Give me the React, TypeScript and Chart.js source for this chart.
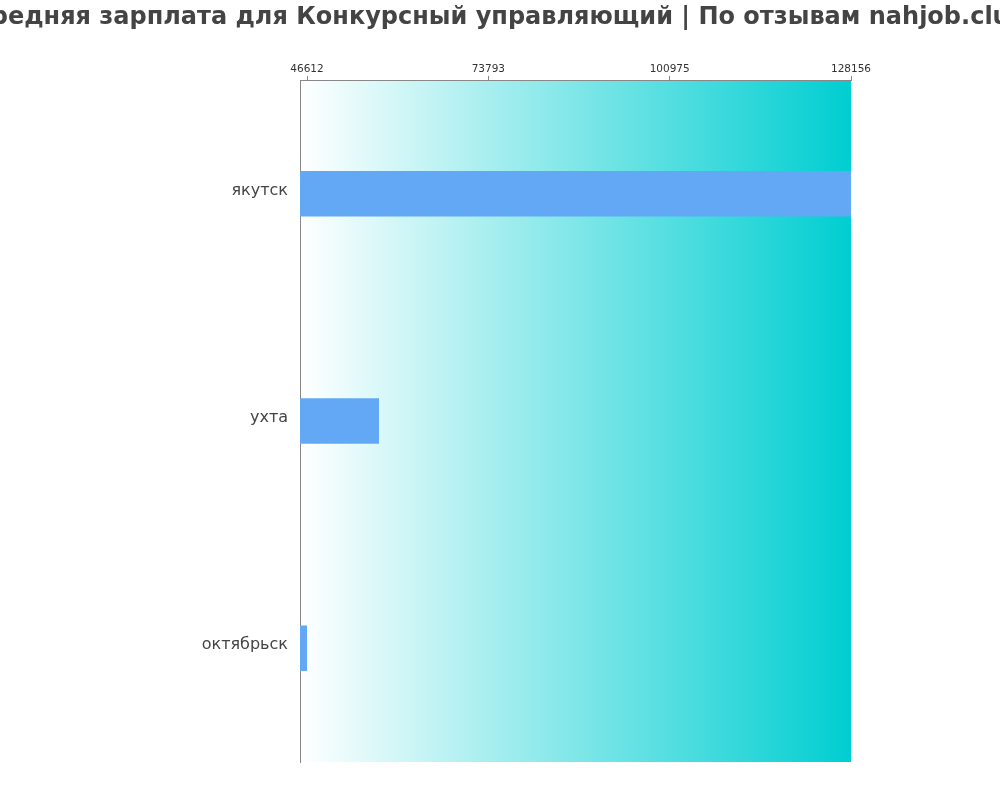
import React, { useEffect, useRef } from "react";
import { Chart, registerables } from "chart.js";

Chart.register(...registerables);

const TITLE = "Средняя зарплата для Конкурсный управляющий | По отзывам nahjob.club";
const cities = ["якутск", "ухта", "октябрьск"];
const salaries = [128156, 57400, 46612];
const tickValues = [46612, 73793, 100975, 128156];
const X_MIN = 45560;
const X_MAX = 128156;

const gradientBg = {
  id: "gradientBg",
  beforeDraw(chart: any) {
    const { ctx, chartArea } = chart;
    if (!chartArea) return;
    const g = ctx.createLinearGradient(chartArea.left, 0, chartArea.right, 0);
    g.addColorStop(0, "rgba(255,255,255,1)");
    g.addColorStop(1, "rgb(0,206,209)");
    ctx.save();
    ctx.fillStyle = g;
    ctx.fillRect(chartArea.left, chartArea.top, chartArea.right - chartArea.left, chartArea.bottom - chartArea.top);
    ctx.restore();
  },
};

const titleDraw = {
  id: "titleDraw",
  afterDraw(chart: any) {
    const { ctx, width } = chart;
    ctx.save();
    try {
      (ctx as any).fontStretch = "normal";
    } catch (e) {}
    ctx.font = "bold 24px 'DejaVu Sans'";
    ctx.fillStyle = "#444444";
    ctx.textAlign = "center";
    ctx.textBaseline = "alphabetic";
    ctx.fillText(TITLE, width / 2, 24);
    ctx.restore();
  },
};

export default function App() {
  const ref = useRef<HTMLCanvasElement>(null);
  useEffect(() => {
    if (!ref.current) return;
    const chart = new Chart(ref.current, {
      type: "bar",
      data: {
        labels: cities,
        datasets: [
          {
            data: salaries,
            backgroundColor: "rgb(99,168,245)",
            borderWidth: 0,
            barPercentage: 0.2,
            categoryPercentage: 1,
          },
        ],
      },
      options: {
        indexAxis: "y",
        animation: false,
        responsive: false,
        maintainAspectRatio: false,
        layout: { padding: { left: 0, right: 149, bottom: 38, top: 0 } },
        plugins: {
          legend: { display: false },
          tooltip: { enabled: false },
          title: { display: false },
        },
        scales: {
          x: {
            position: "top",
            min: X_MIN,
            max: X_MAX,
            afterBuildTicks: (scale: any) => {
              scale.ticks = tickValues.map((v) => ({ value: v }));
            },
            afterFit: (scale: any) => {
              scale.height = 80;
            },
            ticks: {
              autoSkip: false,
              maxRotation: 0,
              color: "#333333",
              font: { family: "DejaVu Sans", size: 10.5 },
              padding: 0,
              callback: (v: any) => String(v),
            },
            grid: {
              display: true,
              drawOnChartArea: false,
              drawTicks: true,
              tickLength: 4,
              color: "#888888",
            },
            border: { display: true, color: "#888888", width: 1 },
          },
          y: {
            afterFit: (scale: any) => {
              scale.width = 300;
            },
            ticks: {
              color: "#444444",
              font: { family: "DejaVu Sans", size: 16 },
              padding: 12,
              labelOffset: -3,
            },
            grid: { display: false, drawTicks: false },
            border: { display: true, color: "#888888", width: 1 },
          },
        },
      },
      plugins: [gradientBg, titleDraw],
    } as any);
    return () => chart.destroy();
  }, []);
  return (
    <div style={{ position: "fixed", left: 0, top: 0, width: 1000, height: 800, background: "#fff" }}>
      <canvas ref={ref} width={1000} height={800} style={{ width: 1000, height: 800, display: "block" }} />
    </div>
  );
}
